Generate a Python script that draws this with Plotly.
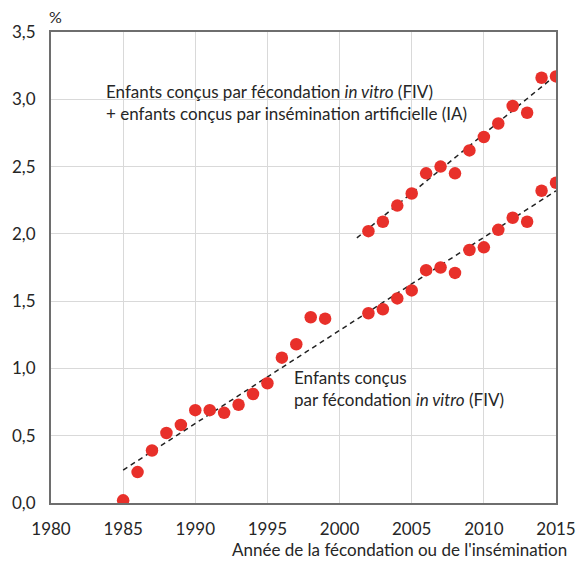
import plotly.graph_objects as go

# Part des enfants conçus par AMP (%)
years_fiv = [1985, 1986, 1987, 1988, 1989, 1990, 1991, 1992, 1993, 1994, 1995,
             1996, 1997, 1998, 1999, 2002, 2003, 2004, 2005, 2006, 2007, 2008,
             2009, 2010, 2011, 2012, 2013, 2014, 2015]
fiv = [0.02, 0.23, 0.39, 0.52, 0.58, 0.69, 0.69, 0.67, 0.73, 0.81, 0.89,
       1.08, 1.18, 1.38, 1.37, 1.41, 1.44, 1.52, 1.58, 1.73, 1.75, 1.71,
       1.88, 1.90, 2.03, 2.12, 2.09, 2.32, 2.38]

years_total = [2002, 2003, 2004, 2005, 2006, 2007, 2008, 2009, 2010, 2011,
               2012, 2013, 2014, 2015]
fiv_ia = [2.02, 2.09, 2.21, 2.30, 2.45, 2.50, 2.45, 2.62, 2.72, 2.82,
          2.95, 2.90, 3.16, 3.17]

# trend lines
trend_fiv_x = [1985, 2015]
trend_fiv_y = [0.245, 2.32]
trend_tot_x = [2001.2, 2015]
trend_tot_y = [1.97, 3.18]

x_ticks = [1980, 1985, 1990, 1995, 2000, 2005, 2010, 2015]
y_ticks = [0.0, 0.5, 1.0, 1.5, 2.0, 2.5, 3.0, 3.5]
y_labels = ["0,0", "0,5", "1,0", "1,5", "2,0", "2,5", "3,0", "3,5"]

FONT = "Lato, 'Open Sans', sans-serif"
TXT = "#262626"
RED = "#e8302a"

fig = go.Figure()

# dashed trend lines
for tx, ty in [(trend_fiv_x, trend_fiv_y), (trend_tot_x, trend_tot_y)]:
    fig.add_trace(go.Scatter(
        x=tx, y=ty, mode="lines",
        line=dict(color="#222222", width=1.5, dash="5px,4px"),
        showlegend=False, hoverinfo="skip",
    ))

# points
for xs, ys in [(years_fiv, fiv), (years_total, fiv_ia)]:
    fig.add_trace(go.Scatter(
        x=xs, y=ys, mode="markers",
        marker=dict(size=12.5, color=RED, line=dict(width=0)),
        showlegend=False,
    ))

fig.add_annotation(
    x=1983.7, y=2.975, xref="x", yref="y", xanchor="left", yanchor="middle",
    align="left", showarrow=False,
    text="Enfants conçus par fécondation <i>in vitro</i> (FIV)<br>"
         "+ enfants conçus par insémination artificielle (IA)",
    font=dict(family=FONT, size=17, color=TXT),
)
fig.add_annotation(
    x=1996.7, y=0.853, xref="x", yref="y", xanchor="left", yanchor="middle",
    align="left", showarrow=False,
    text="Enfants conçus<br>par fécondation <i>in vitro</i> (FIV)",
    font=dict(family=FONT, size=17, color=TXT),
)
fig.add_annotation(
    x=0, y=1, xref="paper", yref="paper", xanchor="left", yanchor="bottom",
    xshift=-4, yshift=4, showarrow=False, text="%",
    font=dict(family=FONT, size=16, color=TXT),
)
fig.add_annotation(
    x=1, y=0, xref="paper", yref="paper", xanchor="right", yanchor="top",
    xshift=13, yshift=-34, showarrow=False,
    text="Année de la fécondation ou de l'insémination",
    font=dict(family=FONT, size=17, color=TXT),
)

axis_style = dict(
    showgrid=True, gridcolor="#d9d9d9", gridwidth=1, zeroline=False,
    showline=True, linecolor="#6e6e6e", linewidth=2, mirror=True,
    ticks="", ticklabelstandoff=10, automargin=False,
    tickfont=dict(family=FONT, size=17, color=TXT),
)

fig.update_layout(
    width=578, height=562,
    margin=dict(l=51, r=22, t=32, b=59),
    plot_bgcolor="white", paper_bgcolor="white",
    font=dict(family=FONT, size=17, color=TXT),
    xaxis=dict(range=[1980, 2015], tickvals=x_ticks, **axis_style),
    yaxis=dict(range=[0, 3.5], tickvals=y_ticks, ticktext=y_labels, **axis_style),
)

fig.write_html(
    "out.html",
    config={"displayModeBar": False},
    post_script="document.body.style.margin='0';",
)
